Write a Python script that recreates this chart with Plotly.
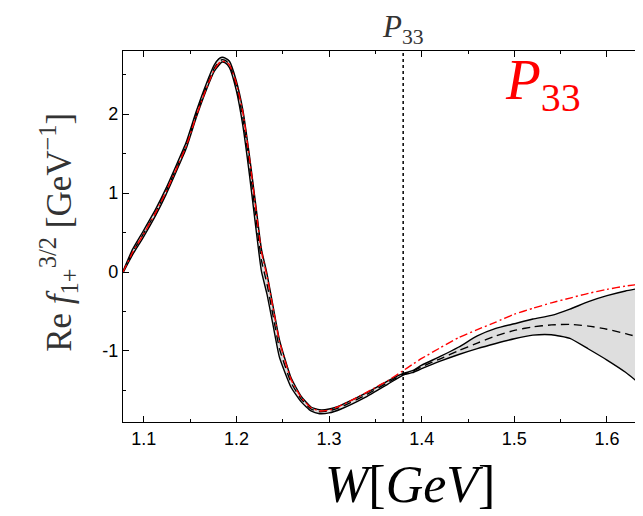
import plotly.graph_objects as go

# ---------------- data ----------------
W = [1.0776, 1.088, 1.099, 1.113, 1.124, 1.135, 1.146, 1.1565, 1.167, 1.176,
     1.181, 1.1845, 1.188, 1.1925, 1.1997, 1.207, 1.214, 1.221, 1.227, 1.233,
     1.2395, 1.2465, 1.259, 1.270, 1.2805, 1.2897, 1.300, 1.313, 1.338, 1.3635,
     1.38, 1.39, 1.40, 1.42, 1.44, 1.46, 1.48, 1.50, 1.52, 1.54,
     1.56, 1.58, 1.60, 1.62, 1.64, 1.65]

central = [0.0, 0.255, 0.47, 0.76, 1.02, 1.31, 1.61, 1.99, 2.33, 2.58,
           2.66, 2.69, 2.68, 2.63, 2.37, 1.95, 1.36, 0.70, 0.15, -0.15,
           -0.55, -0.97, -1.40, -1.61, -1.735, -1.77, -1.76, -1.71, -1.57, -1.40,
           -1.295, -1.26, -1.20, -1.10, -0.995, -0.90, -0.81, -0.74, -0.695, -0.67,
           -0.663, -0.685, -0.725, -0.78, -0.845, -0.875]

upper = [0.01, 0.29, 0.51, 0.80, 1.06, 1.35, 1.65, 2.03, 2.37, 2.62,
         2.70, 2.72, 2.71, 2.67, 2.43, 2.05, 1.48, 0.84, 0.29, -0.02,
         -0.43, -0.86, -1.34, -1.575, -1.71, -1.745, -1.735, -1.685, -1.545, -1.38,
         -1.285, -1.25, -1.18, -1.07, -0.95, -0.81, -0.715, -0.655, -0.595, -0.55,
         -0.47, -0.375, -0.30, -0.24, -0.195, -0.17]

lower = [-0.01, 0.22, 0.43, 0.72, 0.98, 1.27, 1.57, 1.95, 2.29, 2.54,
         2.62, 2.66, 2.65, 2.59, 2.31, 1.85, 1.24, 0.56, 0.01, -0.28,
         -0.67, -1.08, -1.46, -1.645, -1.76, -1.795, -1.785, -1.735, -1.595, -1.42,
         -1.305, -1.275, -1.225, -1.13, -1.045, -0.97, -0.905, -0.845, -0.80, -0.795,
         -0.84, -0.975, -1.115, -1.27, -1.46, -1.56]

red = [0.0, 0.25, 0.465, 0.755, 1.015, 1.30, 1.60, 1.97, 2.31, 2.56,
       2.645, 2.67, 2.665, 2.625, 2.40, 2.02, 1.45, 0.80, 0.26, -0.05,
       -0.45, -0.88, -1.36, -1.59, -1.72, -1.76, -1.75, -1.69, -1.54, -1.375,
       -1.25, -1.17, -1.095, -0.96, -0.83, -0.73, -0.635, -0.535, -0.46, -0.39,
       -0.33, -0.27, -0.22, -0.178, -0.148, -0.135]

pole_W = 1.38

x_ticks = [1.1, 1.2, 1.3, 1.4, 1.5, 1.6]
x_ticklabels = ["1.1", "1.2", "1.3", "1.4", "1.5", "1.6"]
x_minor = [1.15, 1.25, 1.35, 1.45, 1.55, 1.65]
y_ticks = [-1, 0, 1, 2]
y_ticklabels = ["-1", "0", "1", "2"]
y_minor = [-1.5, -0.5, 0.5, 1.5, 2.5]

# ---------------- figure ----------------
fig = go.Figure()
sp = dict(shape="spline", smoothing=0.5)

fig.add_trace(go.Scatter(x=W, y=lower, mode="lines",
                         line=dict(color="black", width=1.4, **sp), showlegend=False))
fig.add_trace(go.Scatter(x=W, y=upper, mode="lines", fill="tonexty",
                         fillcolor="rgb(222,222,222)",
                         line=dict(color="black", width=1.4, **sp), showlegend=False))
fig.add_trace(go.Scatter(x=W, y=central, mode="lines",
                         line=dict(color="black", width=1.4, dash="8px,5px", **sp),
                         showlegend=False))
fig.add_trace(go.Scatter(x=W, y=red, mode="lines",
                         line=dict(color="red", width=1.4, dash="8px,3px,2px,3px", **sp),
                         showlegend=False))

fig.add_shape(type="line", xref="x", yref="paper", x0=pole_W, x1=pole_W,
              y0=0, y1=1, line=dict(color="black", width=1.5, dash="dot"))

serif = "Liberation Serif"
fig.update_layout(
    width=643, height=516,
    margin=dict(l=115, r=0, t=43, b=102),
    plot_bgcolor="white", paper_bgcolor="white",
    font=dict(family="Liberation Sans", size=18, color="black"),
    xaxis=dict(range=[1.0776, 1.6475], tickmode="array", tickvals=x_ticks,
               ticktext=x_ticklabels, ticks="inside", ticklen=6, tickcolor="black",
               showline=True, linecolor="black", linewidth=1.2, mirror="allticks",
               showgrid=False, zeroline=False,
               minor=dict(tickmode="array", tickvals=x_minor, ticks="inside",
                          ticklen=3, tickcolor="black", showgrid=False)),
    yaxis=dict(range=[-1.9, 2.8], tickmode="array", tickvals=y_ticks,
               ticktext=y_ticklabels, ticks="inside", ticklen=6, tickcolor="black",
               showline=True, linecolor="black", linewidth=1.2, mirror=False,
               showgrid=False, zeroline=False,
               minor=dict(tickmode="array", tickvals=y_minor, ticks="inside",
                          ticklen=3, tickcolor="black", showgrid=False)),
)

fig.add_annotation(x=pole_W, xref="x", y=1, yref="paper", xanchor="center",
                   yanchor="bottom", yshift=0, showarrow=False,
                   text="<i>P</i><sub>33</sub>",
                   font=dict(family=serif, size=31, color="#333333"))
fig.add_annotation(x=0.7955, xref="paper", y=0.91, yref="paper",
                   xanchor="center", yanchor="middle",
                   showarrow=False, text="<i>P</i><sub>33</sub>",
                   font=dict(family=serif, size=57, color="red"))
fig.add_annotation(x=0.5436, xref="paper", y=0, yref="paper", yshift=-62,
                   xanchor="center", yanchor="middle", showarrow=False,
                   text="<i>W</i>[<i>GeV</i>]",
                   font=dict(family=serif, size=52, color="black"))
fig.add_annotation(x=0, xref="paper", xshift=-64, y=0.51, yref="paper",
                   xanchor="center", yanchor="middle",
                   textangle=-90, showarrow=False,
                   text="Re <i>f</i><sub>1+</sub><sup>3/2</sup> [GeV<sup>−1</sup>]",
                   font=dict(family=serif, size=35, color="#333333"))

fig.write_html("out.html")
